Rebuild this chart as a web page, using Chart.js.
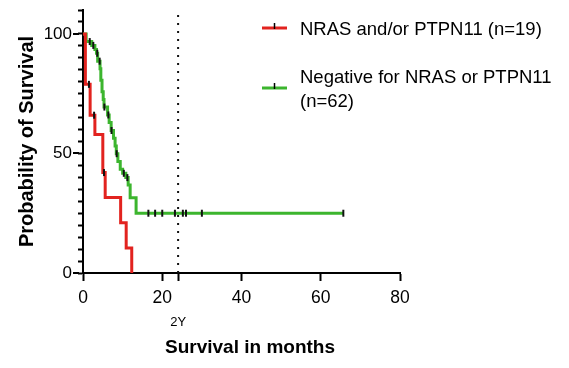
<!DOCTYPE html>
<html><head><meta charset="utf-8">
<script src="https://cdn.jsdelivr.net/npm/chart.js@4"></script>
<style>html,body{margin:0;padding:0;background:#fff;}canvas{display:block;}</style>
</head><body>
<canvas id="c" width="569" height="368"></canvas>
<script>
// ---- data ----
const seriesNames = ['NRAS and/or PTPN11 (n=19)', ['Negative for NRAS or PTPN11', '(n=62)']];
const redTimes = [0, 0.6, 1.8, 3.0, 5.0, 5.6, 9.5, 10.9, 12.3];
const redSurv  = [100, 78.9, 66.0, 57.9, 42.0, 31.6, 21.0, 10.5, 0];
const redCensorTimes = [1.5, 2.8, 5.3];
const redCensorSurv  = [78.9, 66.0, 42.0];
const greenTimes = [0, 0.8, 2.2, 3.0, 3.4, 3.7, 4.3, 4.5, 4.8, 5.1, 5.3, 6.2, 6.6, 7.1, 7.7, 8.1, 8.4, 8.8, 9.4, 10.0, 10.8, 11.4, 11.9, 13.4, 65.7];
const greenSurv  = [100, 96.8, 95.2, 93.5, 91.9, 88.6, 85.4, 80.6, 75.8, 72.6, 69.4, 66.1, 62.9, 59.6, 56.4, 53.1, 49.9, 46.6, 43.4, 41.7, 39.9, 36.8, 31.5, 25.0, 25.0];
const greenCensorTimes = [1.7, 2.6, 3.6, 4.2, 5.4, 6.4, 7.2, 8.5, 10.3, 11.2, 16.5, 18.2, 20.0, 23.2, 25.2, 26.0, 30.0, 65.7];
const greenCensorSurv  = [96.8, 95.2, 91.9, 88.6, 69.4, 66.1, 59.6, 49.9, 41.7, 39.9, 25, 25, 25, 25, 25, 25, 25, 25];
const xTicks = [0, 20, 24, 40, 60, 80];
const yLabelTicks = [0, 50, 100];
const yAllTicks = [0, 5, 10, 15, 20, 25, 30, 35, 40, 45, 50, 55, 60, 65, 70, 75, 80, 85, 90, 95, 100, 105, 110];
const landmarkMonth = 24;
const landmarkLabel = '2Y';
const xTitle = 'Survival in months';
const yTitle = 'Probability of Survival';

const RED = '#e2231f';
const GREEN = '#3cb52e';
const FONT = '"Liberation Sans", Arial, sans-serif';

const pts = (xs, ys) => xs.map((v, i) => ({x: v, y: ys[i]}));

const extras = {
  id: 'extras',
  afterDraw(chart) {
    const {ctx, chartArea} = chart;
    const x = chart.scales.x, y = chart.scales.y;
    ctx.save();
    // longer marks for the labelled y ticks
    ctx.strokeStyle = '#000'; ctx.lineWidth = 2;
    yLabelTicks.forEach(v => {
      const py = Math.round(y.getPixelForValue(v));
      ctx.beginPath(); ctx.moveTo(chartArea.left - 10, py); ctx.lineTo(chartArea.left - 4, py); ctx.stroke();
    });
    // 2Y label
    ctx.fillStyle = '#000';
    ctx.textAlign = 'center'; ctx.textBaseline = 'middle';
    ctx.font = '13px ' + FONT;
    ctx.fillText(landmarkLabel, x.getPixelForValue(landmarkMonth), 322);
    // x title
    ctx.font = 'bold 19px ' + FONT;
    ctx.fillText(xTitle, 250, 348);
    // legend
    const items = [
      {color: RED, text: seriesNames[0], ly: 28, ty: 30},
      {color: GREEN, text: seriesNames[1], ly: 88, ty: 78}
    ];
    ctx.textAlign = 'left';
    ctx.font = '18.5px ' + FONT;
    items.forEach(it => {
      ctx.strokeStyle = it.color; ctx.lineWidth = 3;
      ctx.beginPath(); ctx.moveTo(262, it.ly); ctx.lineTo(287, it.ly); ctx.stroke();
      ctx.strokeStyle = '#000'; ctx.lineWidth = 1.5;
      ctx.beginPath(); ctx.moveTo(274.5, it.ly - 5); ctx.lineTo(274.5, it.ly + 1); ctx.stroke();
      const lines = Array.isArray(it.text) ? it.text : [it.text];
      lines.forEach((l, i) => ctx.fillText(l, 300, it.ty + i * 24));
    });
    ctx.restore();
  }
};

new Chart(document.getElementById('c'), {
  type: 'line',
  data: {
    datasets: [
      {data: pts(redCensorTimes, redCensorSurv), showLine: false, pointStyle: 'line', rotation: 90, pointRadius: 3.5, pointBorderWidth: 2, pointBorderColor: '#111', borderColor: '#111'},
      {data: pts(greenCensorTimes, greenCensorSurv), showLine: false, pointStyle: 'line', rotation: 90, pointRadius: 3.5, pointBorderWidth: 2, pointBorderColor: '#111', borderColor: '#111'},
      {data: pts(redTimes, redSurv), stepped: 'before', borderColor: RED, borderWidth: 3, pointRadius: 0, fill: false},
      {data: pts(greenTimes, greenSurv), stepped: 'before', borderColor: GREEN, borderWidth: 3, pointRadius: 0, fill: false},
      {data: [{x: landmarkMonth, y: 0}, {x: landmarkMonth, y: 110}], borderColor: '#111', borderWidth: 2, borderDash: [2, 6], pointRadius: 0, fill: false}
    ]
  },
  options: {
    responsive: false,
    devicePixelRatio: 1,
    animation: false,
    layout: {padding: {left: 0, right: 169, top: 10, bottom: 0}},
    plugins: {legend: {display: false}, tooltip: {enabled: false}},
    scales: {
      x: {
        type: 'linear', min: 0, max: 80,
        afterBuildTicks: s => { s.ticks = xTicks.map(v => ({value: v})); },
        afterFit: s => { s.height = 95; },
        ticks: {autoSkip: false, maxRotation: 0, padding: 7, color: '#000', font: {family: FONT, size: 17.5},
          callback: v => (v === landmarkMonth ? '' : v)},
        grid: {drawOnChartArea: false, tickLength: 8, tickWidth: 2, tickColor: '#000'},
        border: {color: '#000', width: 2}
      },
      y: {
        min: 0, max: 110,
        afterBuildTicks: s => { s.ticks = yAllTicks.map(v => ({value: v})); },
        afterFit: s => { s.width = 83; s.paddingTop = 0; s.paddingBottom = 0; },
        ticks: {autoSkip: false, padding: 6, color: '#000', font: {family: FONT, size: 17},
          callback: v => (yLabelTicks.includes(v) ? v : '')},
        grid: {drawOnChartArea: false, tickLength: 5, tickWidth: 2, tickColor: '#000'},
        border: {color: '#000', width: 2},
        title: {display: true, text: yTitle, color: '#000', font: {family: FONT, size: 20, weight: 'bold'}, padding: {top: 15, bottom: 0}}
      }
    }
  },
  plugins: [extras]
});
</script>
</body></html>
